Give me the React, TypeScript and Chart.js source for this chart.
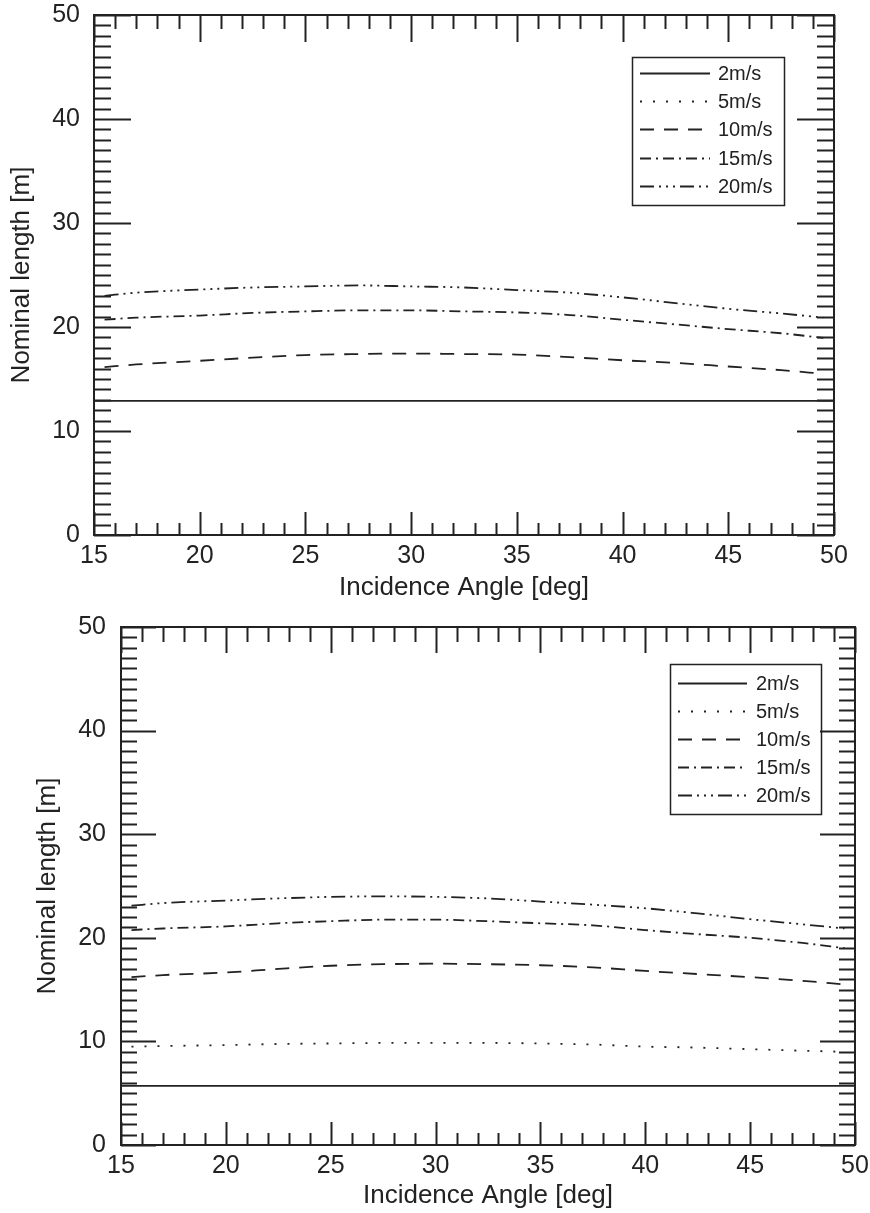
import React, { useEffect, useRef } from "react";
import { Chart, registerables } from "chart.js";

Chart.register(...registerables);

// ---------- data ----------
const SERIES_LABELS = ["2m/s", "5m/s", "10m/s", "15m/s", "20m/s"];
const X_TICKS_MIN = 15;
const X_TICKS_MAX = 50;
const Y_TICKS_MIN = 0;
const Y_TICKS_MAX = 50;

const ANGLES = [15.5, 17, 20, 22.5, 25, 27.5, 30, 32.5, 35, 37.5, 40, 42.5, 45, 47.5, 49.5];
const FLAT_ANGLES = [15, 50];

// top panel
const W2_TOP = [12.9, 12.9];
const W5_TOP: number[] = [];
const W10_TOP = [16.15, 16.4, 16.75, 17.05, 17.3, 17.4, 17.45, 17.4, 17.35, 17.1, 16.8, 16.55, 16.2, 15.85, 15.5];
const W15_TOP = [20.7, 20.9, 21.1, 21.35, 21.5, 21.6, 21.6, 21.5, 21.4, 21.15, 20.7, 20.25, 19.8, 19.4, 18.95];
const W20_TOP = [23.0, 23.3, 23.6, 23.8, 23.9, 24.0, 23.9, 23.8, 23.55, 23.3, 22.85, 22.3, 21.75, 21.3, 20.9];

// bottom panel
const W2_BOT = [5.7, 5.7];
const W5_BOT = [9.5, 9.55, 9.65, 9.75, 9.8, 9.85, 9.85, 9.85, 9.8, 9.7, 9.5, 9.4, 9.25, 9.1, 9.0];
const W10_BOT = [16.2, 16.4, 16.65, 17.0, 17.3, 17.45, 17.5, 17.45, 17.35, 17.15, 16.8, 16.5, 16.2, 15.85, 15.5];
const W15_BOT = [20.75, 20.9, 21.1, 21.4, 21.6, 21.75, 21.75, 21.6, 21.4, 21.2, 20.75, 20.35, 20.0, 19.5, 19.0];
const W20_BOT = [23.1, 23.35, 23.6, 23.8, 23.95, 24.0, 23.95, 23.8, 23.5, 23.2, 22.85, 22.35, 21.8, 21.3, 20.9];

const DASHES: number[][] = [
  [],
  [2, 11],
  [14, 10],
  [11, 5, 2, 5],
  [14, 5, 2, 5, 2, 5, 2, 5],
];

const INK = "#222";
const FONT = "'Liberation Sans', Arial, Helvetica, sans-serif";

function pts(xs: number[], ys: number[]) {
  return ys.map((y, i) => ({ x: xs[i], y }));
}

type PanelCfg = {
  width: number;
  height: number;
  padTop: number;
  padRight: number;
  yAxisWidth: number;
  xAxisHeight: number;
  yLabelPad: number;
  xLabelPad: number;
  yTitlePad: number;
  xTitlePad: number;
  ticks: { yMaj: number; yMin: number; xMajB: number; xMinB: number; xMajT: number; xMinT: number };
  legend: { right: number; top: number; w: number; h: number; firstRow: number; rowGap: number; lineLen: number; textGap: number; inset: number };
  series: number[][];
};

const TOP_CFG: PanelCfg = {
  width: 870,
  height: 610,
  padTop: 15,
  padRight: 36,
  yAxisWidth: 94,
  xAxisHeight: 75,
  yLabelPad: 14,
  xLabelPad: 6,
  yTitlePad: 6,
  xTitlePad: 7,
  ticks: { yMaj: 37, yMin: 17, xMajB: 23, xMinB: 12, xMajT: 27, xMinT: 14 },
  legend: { right: 50, top: 42, w: 152, h: 148, firstRow: 16, rowGap: 28.2, lineLen: 70, textGap: 8, inset: 8 },
  series: [W2_TOP, W5_TOP, W10_TOP, W15_TOP, W20_TOP],
};

const BOT_CFG: PanelCfg = {
  width: 870,
  height: 603,
  padTop: 17,
  padRight: 15,
  yAxisWidth: 121,
  xAxisHeight: 68,
  yLabelPad: 15,
  xLabelPad: 6,
  yTitlePad: 32,
  xTitlePad: 2,
  ticks: { yMaj: 35, yMin: 16, xMajB: 23, xMinB: 12, xMajT: 26, xMinT: 15 },
  legend: { right: 34, top: 37, w: 151, h: 150, firstRow: 19, rowGap: 28, lineLen: 69, textGap: 9, inset: 8 },
  series: [W2_BOT, W5_BOT, W10_BOT, W15_BOT, W20_BOT],
};

const frameAndTicks = (cfg: PanelCfg) => ({
  id: "frameAndTicks",
  afterDatasetsDraw(chart: any) {
    const { ctx, chartArea: a, scales } = chart;
    const xs = scales.x;
    const ys = scales.y;
    const t = cfg.ticks;
    ctx.save();
    ctx.strokeStyle = INK;
    ctx.lineWidth = 2;
    ctx.setLineDash([]);
    ctx.beginPath();
    for (let v = X_TICKS_MIN; v <= X_TICKS_MAX; v += 1) {
      const px = Math.round(xs.getPixelForValue(v)) + 0.5;
      const major = v % 5 === 0;
      const lb = major ? t.xMajB : t.xMinB;
      const lt = major ? t.xMajT : t.xMinT;
      ctx.moveTo(px, a.bottom);
      ctx.lineTo(px, a.bottom - lb);
      ctx.moveTo(px, a.top);
      ctx.lineTo(px, a.top + lt);
    }
    for (let v = Y_TICKS_MIN; v <= Y_TICKS_MAX; v += 1) {
      const py = Math.round(ys.getPixelForValue(v)) + 0.5;
      const major = v % 10 === 0;
      const l = major ? t.yMaj : t.yMin;
      ctx.moveTo(a.left, py);
      ctx.lineTo(a.left + l, py);
      ctx.moveTo(a.right, py);
      ctx.lineTo(a.right - l, py);
    }
    ctx.stroke();
    ctx.strokeRect(a.left, a.top, a.right - a.left, a.bottom - a.top);
    ctx.restore();
  },
});

const boxLegend = (cfg: PanelCfg) => ({
  id: "boxLegend",
  afterDraw(chart: any) {
    const { ctx, chartArea: a } = chart;
    const L = cfg.legend;
    const bx = a.right - L.right - L.w;
    const by = a.top + L.top;
    ctx.save();
    ctx.strokeStyle = INK;
    ctx.lineWidth = 1.5;
    ctx.setLineDash([]);
    ctx.strokeRect(bx + 0.5, by + 0.5, L.w, L.h);
    chart.data.datasets.forEach((ds: any, i: number) => {
      const y = Math.round(by + L.firstRow + i * L.rowGap) + 0.5;
      ctx.beginPath();
      ctx.setLineDash(ds.borderDash || []);
      ctx.lineWidth = 1.8;
      ctx.moveTo(bx + L.inset, y);
      ctx.lineTo(bx + L.inset + L.lineLen, y);
      ctx.stroke();
      ctx.setLineDash([]);
      ctx.fillStyle = INK;
      ctx.font = `20px ${FONT}`;
      ctx.textBaseline = "middle";
      ctx.textAlign = "left";
      ctx.fillText(ds.label, bx + L.inset + L.lineLen + L.textGap, y + 1);
    });
    ctx.restore();
  },
});

function Panel({ cfg, top }: { cfg: PanelCfg; top: number }) {
  const ref = useRef<HTMLCanvasElement | null>(null);
  useEffect(() => {
    if (!ref.current) return;
    const datasets = cfg.series.map((s, i) => ({
      label: SERIES_LABELS[i],
      data: i === 0 ? pts(FLAT_ANGLES, s) : pts(ANGLES, s),
      borderColor: INK,
      borderWidth: 1.8,
      borderDash: DASHES[i],
      pointRadius: 0,
      fill: false,
      cubicInterpolationMode: "monotone" as const,
    }));
    const chart = new Chart(ref.current, {
      type: "line",
      data: { datasets },
      options: {
        animation: false,
        responsive: false,
        maintainAspectRatio: false,
        devicePixelRatio: 1,
        layout: { padding: { top: cfg.padTop, right: cfg.padRight, left: 0, bottom: 0 } },
        plugins: { legend: { display: false }, tooltip: { enabled: false } },
        scales: {
          x: {
            type: "linear",
            min: X_TICKS_MIN,
            max: X_TICKS_MAX,
            grid: { display: false, drawTicks: false },
            border: { display: false },
            ticks: { stepSize: 5, color: INK, padding: cfg.xLabelPad, font: { size: 25, family: FONT }, maxRotation: 0 },
            title: {
              display: true,
              text: "Incidence Angle [deg]",
              color: INK,
              font: { size: 26, family: FONT },
              padding: { top: 0, bottom: cfg.xTitlePad },
            },
            afterFit: (s: any) => {
              s.height = cfg.xAxisHeight;
              s.paddingLeft = 0;
              s.paddingRight = 0;
            },
          },
          y: {
            type: "linear",
            min: Y_TICKS_MIN,
            max: Y_TICKS_MAX,
            grid: { display: false, drawTicks: false },
            border: { display: false },
            ticks: { stepSize: 10, color: INK, padding: cfg.yLabelPad, font: { size: 25, family: FONT } },
            title: {
              display: true,
              text: "Nominal length [m]",
              color: INK,
              font: { size: 26, family: FONT },
              padding: { top: cfg.yTitlePad, bottom: 0 },
            },
            afterFit: (s: any) => {
              s.width = cfg.yAxisWidth;
              s.paddingTop = 0;
              s.paddingBottom = 0;
            },
          },
        },
      },
      plugins: [frameAndTicks(cfg), boxLegend(cfg)],
    });
    return () => chart.destroy();
  }, [cfg]);
  return (
    <canvas
      ref={ref}
      width={cfg.width}
      height={cfg.height}
      style={{ position: "absolute", left: 0, top, width: cfg.width, height: cfg.height, display: "block" }}
    />
  );
}

export default function App() {
  return (
    <div style={{ position: "absolute", left: 0, top: 0, width: 870, height: 1213, background: "#fff" }}>
      <Panel cfg={TOP_CFG} top={0} />
      <Panel cfg={BOT_CFG} top={610} />
    </div>
  );
}
